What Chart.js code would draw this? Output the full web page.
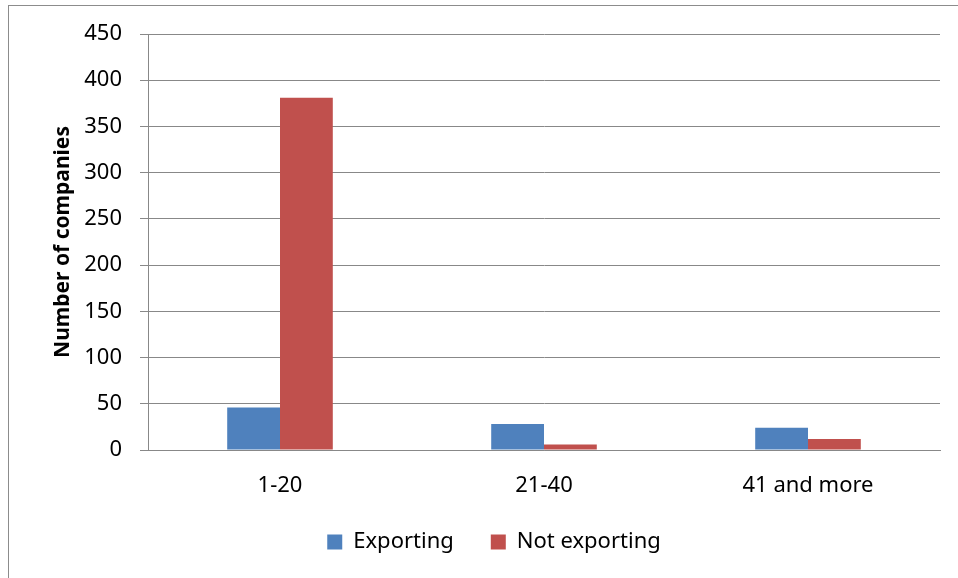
<!DOCTYPE html>
<html>
<head>
<meta charset="utf-8">
<script src="https://cdn.jsdelivr.net/npm/chart.js@4/dist/chart.umd.min.js"></script>
<style>
    html, body { margin: 0; padding: 0; background: #fff; overflow: hidden; }
    #wrap { position: relative; width: 958px; height: 578px; overflow: hidden; }
    #frame {
        position: absolute; left: 8px; top: 5px; width: 1000px; height: 600px;
        border: 1px solid #8c8c8c; box-sizing: border-box; pointer-events: none;
    }
    canvas { position: absolute; left: 0; top: 0; }
</style>
</head>
<body>
<div id="wrap">
    <canvas id="chart" width="958" height="578"></canvas>
    <div id="frame"></div>
</div>
<script>
// company size bands and counts
const categories = ['1-20', '21-40', '41 and more'];
const exporting = [46, 28, 24];
const notExporting = [381, 6, 12];
const yTicks = [0, 50, 100, 150, 200, 250, 300, 350, 400, 450];

const FONT = "'Noto Sans', 'Open Sans', sans-serif";
const GRID = '#888888';

// nudge the legend row to the right of the canvas centre
const legendShift = {
    id: 'legendShift',
    afterLayout(chart) {
        if (chart.legend) {
            chart.legend.left += 24;
            chart.legend.right += 24;
        }
    }
};

new Chart(document.getElementById('chart'), {
    type: 'bar',
    data: {
        labels: categories,
        datasets: [
            {
                label: 'Exporting',
                data: exporting,
                backgroundColor: '#4F81BD',
                categoryPercentage: 0.4,
                barPercentage: 1.0
            },
            {
                label: 'Not exporting',
                data: notExporting,
                backgroundColor: '#C0504D',
                categoryPercentage: 0.4,
                barPercentage: 1.0
            }
        ]
    },
    options: {
        responsive: false,
        animation: false,
        layout: {
            padding: { top: 34, right: 18, bottom: 15, left: 0 }
        },
        scales: {
            x: {
                grid: { display: false, drawTicks: false },
                border: { display: true, color: GRID, width: 1 },
                ticks: {
                    color: '#000',
                    padding: 23,
                    font: { family: FONT, size: 22 }
                },
                afterFit: (scale) => { scale.height = 44; }
            },
            y: {
                min: 0,
                max: 450,
                afterBuildTicks: (scale) => {
                    scale.ticks = yTicks.map(v => ({ value: v }));
                },
                grid: {
                    color: GRID,
                    lineWidth: 1,
                    drawTicks: true,
                    tickLength: 8
                },
                border: { display: true, color: GRID, width: 1 },
                ticks: {
                    color: '#000',
                    padding: 18,
                    font: { family: FONT, size: 22 }
                },
                title: {
                    display: true,
                    text: 'Number of companies',
                    color: '#000',
                    padding: { top: 50, bottom: 0 },
                    font: { family: FONT, size: 21, weight: 'bold' }
                },
                afterFit: (scale) => { scale.width = 148; }
            }
        },
        plugins: {
            legend: {
                position: 'bottom',
                labels: {
                    color: '#000',
                    boxWidth: 15,
                    boxHeight: 15,
                    padding: 37,
                    font: { family: FONT, size: 22 }
                }
            },
            tooltip: { enabled: false }
        }
    },
    plugins: [legendShift]
});
</script>
</body>
</html>
